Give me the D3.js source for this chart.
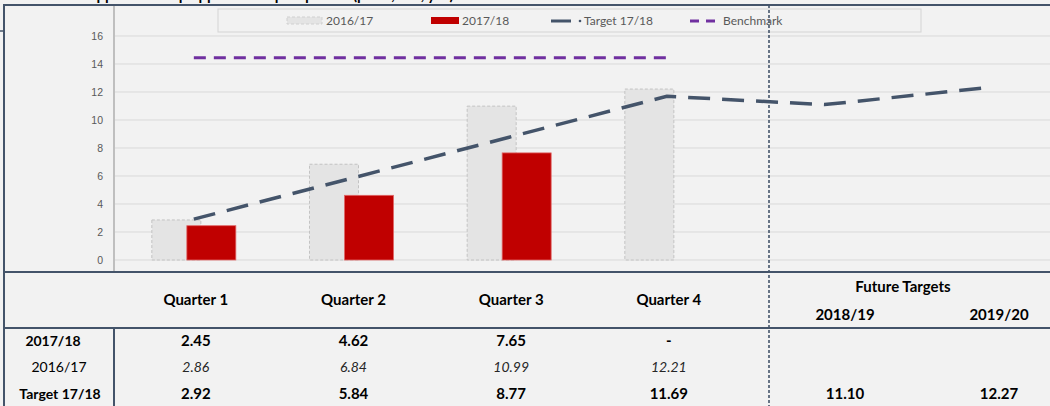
<!DOCTYPE html>
<html>
<head>
<meta charset="utf-8">
<script src="https://cdn.jsdelivr.net/npm/d3@7"></script>
<style>
  body { margin: 0; background: #f2f2f2; }
  svg { display: block; font-family: Lato, "Liberation Sans", sans-serif; }
</style>
</head>
<body>
<script>
// chart data
const categories = ["Quarter 1", "Quarter 2", "Quarter 3", "Quarter 4", "2018/19", "2019/20"];
const quarters = categories.slice(0, 4);
const futureYears = ["2018/19", "2019/20"];
const values1617 = [2.86, 6.84, 10.99, 12.21];
const values1718 = [2.45, 4.62, 7.65, null];
const target1718 = [2.92, 5.84, 8.77, 11.69, 11.10, 12.27];
const benchmark = 14.45;
const yTicks = [0, 2, 4, 6, 8, 10, 12, 14, 16];
const legendLabels = ["2016/17", "2017/18", "Target 17/18", "Benchmark"];
const rowLabels = ["2017/18", "2016/17", "Target 17/18"];

const W = 1050, H = 406;
const dark = "#44546a";

let svg = d3.select("body").append("svg")
  .attr("width", W)
  .attr("height", H);

svg.append("rect").attr("width", W).attr("height", H).attr("fill", "#f2f2f2");

// scales
let x = d3.scaleBand().domain(categories).range([115, 1061]).paddingInner(0).paddingOuter(0);
let y = d3.scaleLinear().domain([0, 16]).range([260, 36]);
let barW = 49;
let cx = d => x(d) + x.bandwidth() / 2;

// grid lines
svg.append("g").selectAll("line")
  .data(yTicks)
  .enter().append("line")
  .attr("x1", 115).attr("x2", W)
  .attr("y1", d => y(d)).attr("y2", d => y(d))
  .style("stroke", "#d9d9d9")
  .style("stroke-width", 1);

// y axis
let yAxis = svg.append("g")
  .attr("transform", "translate(114,0)")
  .call(d3.axisLeft(y).tickValues(yTicks).tickSize(0).tickPadding(11));
yAxis.select(".domain").remove();
yAxis.selectAll("text").style("font-size", "10.5px").style("fill", "#595959");
svg.append("line")
  .attr("x1", 114).attr("x2", 114).attr("y1", 5).attr("y2", 272)
  .style("stroke", "#bfbfbf").style("stroke-width", 2);

// 2016/17 bars
svg.append("g").selectAll("rect")
  .data(quarters)
  .enter().append("rect")
  .attr("x", d => cx(d) - 42)
  .attr("y", (d, i) => y(values1617[i]))
  .attr("width", barW)
  .attr("height", (d, i) => y(0) - y(values1617[i]))
  .style("fill", "#e4e4e4")
  .style("stroke", "#c3c3c3")
  .style("stroke-dasharray", "3 2");

// 2017/18 bars
svg.append("g").selectAll("rect")
  .data(quarters.filter((d, i) => values1718[i] != null))
  .enter().append("rect")
  .attr("x", d => cx(d) - 7)
  .attr("y", (d, i) => y(values1718[i]))
  .attr("width", barW)
  .attr("height", (d, i) => y(0) - y(values1718[i]))
  .style("fill", "#c00000")
  .style("stroke", "#e06666")
  .style("stroke-width", 0.8);

// benchmark line
svg.append("line")
  .attr("x1", cx(quarters[0])).attr("x2", cx(quarters[3]))
  .attr("y1", y(benchmark)).attr("y2", y(benchmark))
  .style("stroke", "#7030a0")
  .style("stroke-width", 3)
  .style("stroke-dasharray", "12 8");

// target line
let line = d3.line()
  .x((d, i) => cx(categories[i]))
  .y(d => y(d));
svg.append("path")
  .datum(target1718)
  .attr("d", line)
  .style("fill", "none")
  .style("stroke", dark)
  .style("stroke-width", 3.5)
  .style("stroke-dasharray", "22 12");

// legend
let lg = svg.append("g").style("font-size", "12px").style("fill", "#595959");
lg.append("rect").attr("x", 218).attr("y", 9).attr("width", 703).attr("height", 23)
  .style("fill", "#f2f2f2").style("stroke", "#d4d4d4");
lg.append("rect").attr("x", 287).attr("y", 17).attr("width", 35).attr("height", 7)
  .style("fill", "#e4e4e4").style("stroke", "#d0d0d0").style("stroke-dasharray", "3 2");
lg.append("rect").attr("x", 431).attr("y", 17).attr("width", 28).attr("height", 7)
  .style("fill", "#c00000");
lg.append("line").attr("x1", 551).attr("x2", 571).attr("y1", 21).attr("y2", 21)
  .style("stroke", dark).style("stroke-width", 3);
lg.append("circle").attr("cx", 580).attr("cy", 21).attr("r", 1.3).style("fill", dark);
lg.append("line").attr("x1", 690).attr("x2", 718).attr("y1", 21).attr("y2", 21)
  .style("stroke", "#7030a0").style("stroke-width", 3).style("stroke-dasharray", "9 7");
let legendX = [326, 462, 584, 723];
lg.selectAll("text.lbl")
  .data(legendLabels)
  .enter().append("text")
  .attr("class", "lbl")
  .attr("x", (d, i) => legendX[i])
  .attr("y", 25)
  .text(d => d);

// title, cut off by the top edge as in the source
svg.append("text")
  .attr("x", 86).attr("y", 0)
  .style("font-size", "15px").style("font-weight", "bold").style("fill", "#000")
  .text("Apprenticeship applications per quarter (per 1,000, ytd)");

// frame lines
svg.append("line").attr("x1", 3).attr("x2", W).attr("y1", 5).attr("y2", 5)
  .style("stroke", dark).style("stroke-width", 2);
svg.append("line").attr("x1", 4).attr("x2", 4).attr("y1", 5).attr("y2", H)
  .style("stroke", dark).style("stroke-width", 2);
svg.append("line").attr("x1", 0).attr("x2", 4).attr("y1", 31).attr("y2", 31)
  .style("stroke", dark).style("stroke-width", 1.5);
svg.append("line").attr("x1", 4).attr("x2", W).attr("y1", 272).attr("y2", 272)
  .style("stroke", dark).style("stroke-width", 2);
svg.append("line").attr("x1", 4).attr("x2", W).attr("y1", 328).attr("y2", 328)
  .style("stroke", dark).style("stroke-width", 2);
svg.append("line").attr("x1", 114).attr("x2", 114).attr("y1", 328).attr("y2", H)
  .style("stroke", dark).style("stroke-width", 2);
svg.append("line").attr("x1", 769).attr("x2", 769).attr("y1", 5).attr("y2", H)
  .style("stroke", dark).style("stroke-width", 1.6).style("stroke-dasharray", "3 2");

// table
let tx = d => cx(d) + 2;
let fx = d3.scalePoint().domain(futureYears).range([845, 999]);
let tbl = svg.append("g").style("font-size", "15px").style("fill", "#000").attr("text-anchor", "middle");

tbl.selectAll("text.qh")
  .data(quarters)
  .enter().append("text")
  .attr("class", "qh")
  .attr("x", tx).attr("y", 305)
  .style("font-weight", "bold")
  .text(d => d);
tbl.append("text").attr("x", 903).attr("y", 292).style("font-weight", "bold").text("Future Targets");
tbl.selectAll("text.fh")
  .data(futureYears)
  .enter().append("text")
  .attr("class", "fh")
  .attr("x", fx).attr("y", 320)
  .style("font-weight", "bold")
  .text(d => d);

let rowY = [346, 372, 399];
let rowX = [53, 59, 60];
tbl.selectAll("text.rl")
  .data(rowLabels)
  .enter().append("text")
  .attr("class", "rl")
  .attr("x", (d, i) => rowX[i]).attr("y", (d, i) => rowY[i])
  .style("font-size", "14px")
  .style("font-weight", (d, i) => i === 1 ? "normal" : "bold")
  .text(d => d);

tbl.selectAll("text.r1")
  .data(values1718)
  .enter().append("text")
  .attr("class", "r1")
  .attr("x", (d, i) => tx(quarters[i])).attr("y", rowY[0])
  .style("font-weight", "bold")
  .text(d => d == null ? "-" : d.toFixed(2));

tbl.selectAll("text.r2")
  .data(values1617)
  .enter().append("text")
  .attr("class", "r2")
  .attr("x", (d, i) => tx(quarters[i])).attr("y", rowY[1])
  .style("font-style", "italic")
  .style("font-size", "14px")
  .style("fill", "#262626")
  .text(d => d.toFixed(2));

tbl.selectAll("text.r3")
  .data(target1718)
  .enter().append("text")
  .attr("class", "r3")
  .attr("x", (d, i) => i < 4 ? tx(quarters[i]) : fx(futureYears[i - 4]))
  .attr("y", rowY[2])
  .style("font-weight", "bold")
  .text(d => d.toFixed(2));
</script>
</body>
</html>
